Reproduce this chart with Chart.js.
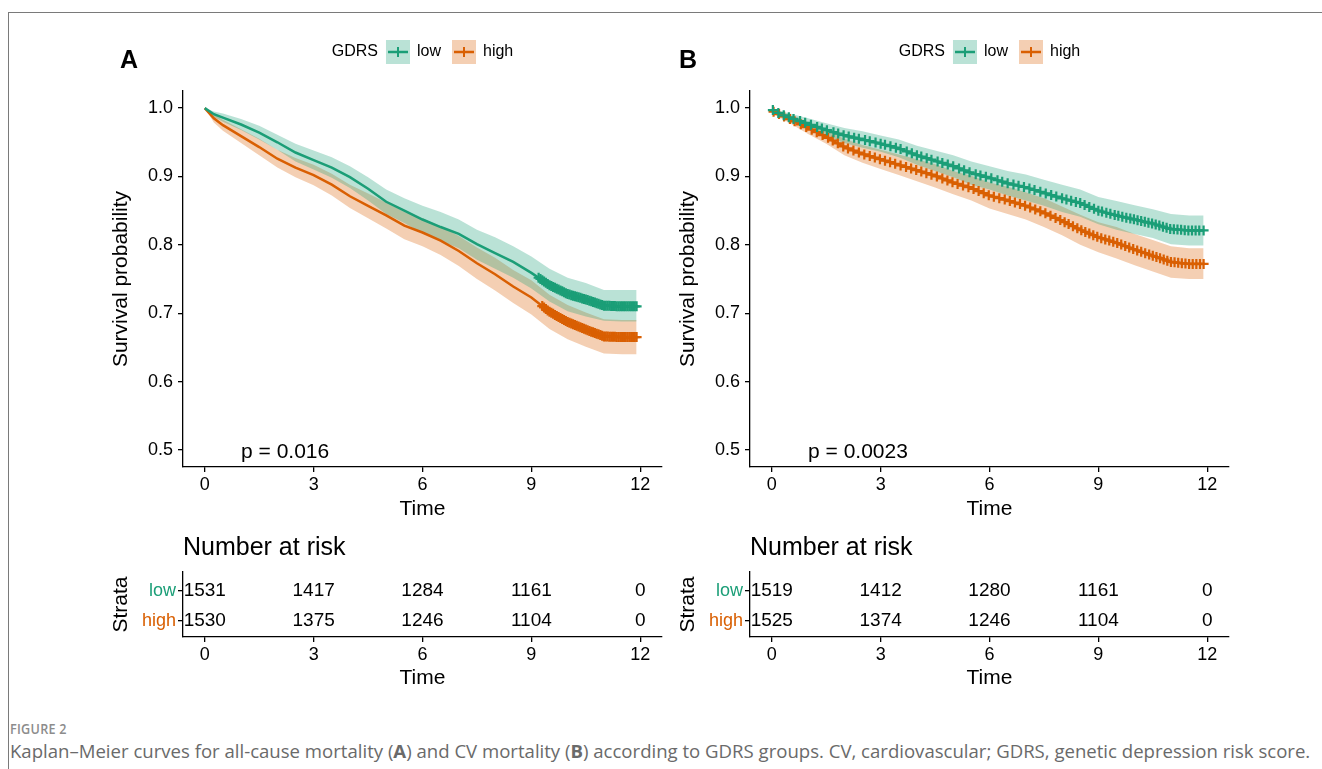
<!DOCTYPE html>
<html>
<head>
<meta charset="utf-8">
<script src="https://cdn.jsdelivr.net/npm/chart.js@4.4.1/dist/chart.umd.min.js"></script>
<style>
  html, body { margin: 0; padding: 0; background: #fff; width: 1322px; height: 769px; overflow: hidden; }
  canvas { position: absolute; }
  #frame { position: absolute; left: 8px; top: 12px; width: 1320px; height: 760px;
           border-top: 1px solid #7a7a7a; border-left: 1px solid #7a7a7a; }
  #figno { position: absolute; left: 10px; top: 719px; font: 600 14px "Open Sans", sans-serif;
           color: #8c8c8c; letter-spacing: 0.3px; transform-origin: 0 0; transform: scaleX(0.9); }
  #caption { position: absolute; left: 10px; top: 739px; font: 18px "Open Sans", sans-serif;
             color: #6a6a6a; white-space: nowrap; transform-origin: 0 0; }
</style>
</head>
<body>
<div id="frame"></div>
<canvas id="kmA" width="570" height="510" style="left:101px;top:20px"></canvas>
<canvas id="riskA" width="570" height="172" style="left:101px;top:525px"></canvas>
<canvas id="kmB" width="570" height="510" style="left:668px;top:20px"></canvas>
<canvas id="riskB" width="570" height="172" style="left:668px;top:525px"></canvas>
<div id="figno">FIGURE 2</div>
<div id="caption">Kaplan–Meier curves for all-cause mortality (<b>A</b>) and CV mortality (<b>B</b>) according to GDRS groups. CV, cardiovascular; GDRS, genetic depression risk score.</div>
<script>
// ---- data ----
const xTicks = [0, 3, 6, 9, 12];
const yTicks = [0.5, 0.6, 0.7, 0.8, 0.9, 1.0];
const strata = ["low", "high"];
const colLow = "#1B9E77";
const colHigh = "#D95F02";

const timeGrid = [0, 0.25, 0.5, 1, 1.5, 2, 2.5, 3, 3.5, 4, 4.5, 5, 5.5, 6, 6.5, 7, 7.5, 8, 8.5, 9, 9.5, 10, 10.5, 11, 11.5, 11.9];

// panel A: all-cause mortality
const survLowA  = [1.000, 0.991, 0.986, 0.976, 0.964, 0.950, 0.935, 0.924, 0.913, 0.899, 0.882, 0.863, 0.850, 0.837, 0.826, 0.816, 0.801, 0.788, 0.775, 0.759, 0.741, 0.728, 0.720, 0.711, 0.710, 0.710];
const loLowA    = [1.000, 0.987, 0.980, 0.968, 0.954, 0.939, 0.922, 0.910, 0.898, 0.883, 0.865, 0.845, 0.832, 0.817, 0.806, 0.795, 0.778, 0.765, 0.752, 0.736, 0.717, 0.703, 0.695, 0.689, 0.688, 0.688];
const hiLowA    = [1.000, 0.995, 0.992, 0.984, 0.974, 0.961, 0.948, 0.938, 0.928, 0.915, 0.899, 0.881, 0.868, 0.857, 0.848, 0.837, 0.822, 0.811, 0.798, 0.783, 0.765, 0.752, 0.744, 0.734, 0.734, 0.734];
const survHighA = [1.000, 0.985, 0.975, 0.959, 0.943, 0.926, 0.913, 0.902, 0.888, 0.871, 0.857, 0.843, 0.828, 0.818, 0.806, 0.791, 0.773, 0.757, 0.739, 0.723, 0.702, 0.687, 0.676, 0.666, 0.665, 0.665];
const loHighA   = [1.000, 0.979, 0.967, 0.949, 0.931, 0.913, 0.899, 0.887, 0.872, 0.854, 0.839, 0.824, 0.808, 0.798, 0.785, 0.769, 0.750, 0.733, 0.715, 0.698, 0.677, 0.662, 0.651, 0.641, 0.640, 0.640];
const hiHighA   = [1.000, 0.991, 0.983, 0.969, 0.955, 0.939, 0.927, 0.917, 0.904, 0.888, 0.875, 0.862, 0.848, 0.839, 0.827, 0.813, 0.796, 0.781, 0.763, 0.748, 0.727, 0.712, 0.701, 0.691, 0.690, 0.690];
const censLowA  = [9.2, 9.25, 9.3, 9.35, 9.4, 9.45, 9.5, 9.55, 9.6, 9.65, 9.7, 9.75, 9.8, 9.85, 9.9, 9.95, 10.0, 10.05, 10.1, 10.15, 10.2, 10.25, 10.3, 10.35, 10.4, 10.45, 10.5, 10.55, 10.6, 10.65, 10.7, 10.75, 10.8, 10.85, 10.9, 10.95, 11.0, 11.05, 11.1, 11.15, 11.2, 11.25, 11.3, 11.35, 11.4, 11.45, 11.5, 11.55, 11.6, 11.65, 11.7, 11.75, 11.8, 11.85, 11.9];
const censHighA = [9.3, 9.35, 9.4, 9.45, 9.5, 9.55, 9.6, 9.65, 9.7, 9.75, 9.8, 9.85, 9.9, 9.95, 10.0, 10.05, 10.1, 10.15, 10.2, 10.25, 10.3, 10.35, 10.4, 10.45, 10.5, 10.55, 10.6, 10.65, 10.7, 10.75, 10.8, 10.85, 10.9, 10.95, 11.0, 11.05, 11.1, 11.15, 11.2, 11.25, 11.3, 11.35, 11.4, 11.45, 11.5, 11.55, 11.6, 11.65, 11.7, 11.75, 11.8, 11.85, 11.9];
const riskLowA  = [1531, 1417, 1284, 1161, 0];
const riskHighA = [1530, 1375, 1246, 1104, 0];

// panel B: CV mortality
const survLowB  = [0.998, 0.991, 0.986, 0.977, 0.968, 0.960, 0.954, 0.948, 0.941, 0.931, 0.923, 0.915, 0.905, 0.898, 0.890, 0.884, 0.876, 0.868, 0.861, 0.850, 0.843, 0.837, 0.831, 0.823, 0.821, 0.821];
const loLowB    = [0.996, 0.987, 0.980, 0.969, 0.958, 0.949, 0.942, 0.936, 0.928, 0.917, 0.908, 0.899, 0.888, 0.881, 0.872, 0.865, 0.857, 0.848, 0.841, 0.830, 0.822, 0.816, 0.810, 0.801, 0.799, 0.799];
const hiLowB    = [1.000, 0.995, 0.992, 0.985, 0.978, 0.971, 0.966, 0.960, 0.954, 0.945, 0.938, 0.931, 0.922, 0.915, 0.908, 0.903, 0.895, 0.888, 0.881, 0.870, 0.864, 0.858, 0.852, 0.845, 0.843, 0.843];
const survHighB = [0.996, 0.990, 0.984, 0.971, 0.958, 0.943, 0.933, 0.925, 0.917, 0.909, 0.901, 0.891, 0.883, 0.872, 0.865, 0.857, 0.847, 0.835, 0.822, 0.811, 0.803, 0.793, 0.784, 0.775, 0.772, 0.772];
const loHighB   = [0.993, 0.985, 0.978, 0.962, 0.948, 0.931, 0.920, 0.911, 0.902, 0.893, 0.884, 0.874, 0.865, 0.853, 0.845, 0.837, 0.826, 0.814, 0.800, 0.789, 0.780, 0.770, 0.761, 0.752, 0.750, 0.750];
const hiHighB   = [0.999, 0.995, 0.990, 0.980, 0.968, 0.955, 0.946, 0.939, 0.932, 0.925, 0.918, 0.908, 0.901, 0.891, 0.885, 0.877, 0.868, 0.856, 0.844, 0.833, 0.826, 0.816, 0.807, 0.798, 0.795, 0.795];
const censLowB  = [0.03, 0.18, 0.33, 0.47, 0.6, 0.78, 0.92, 1.08, 1.25, 1.38, 1.52, 1.7, 1.83, 1.98, 2.12, 2.27, 2.4, 2.57, 2.7, 2.86, 3.0, 3.12, 3.27, 3.42, 3.55, 3.72, 3.86, 4.0, 4.12, 4.27, 4.4, 4.57, 4.7, 4.85, 5.0, 5.16, 5.3, 5.45, 5.62, 5.75, 5.9, 6.05, 6.22, 6.35, 6.5, 6.66, 6.8, 6.95, 7.1, 7.24, 7.4, 7.55, 7.7, 7.84, 8.0, 8.12, 8.25, 8.38, 8.5, 8.62, 8.75, 8.88, 9.0, 9.1, 9.22, 9.33, 9.45, 9.55, 9.66, 9.77, 9.88, 9.98, 10.08, 10.18, 10.28, 10.38, 10.48, 10.58, 10.68, 10.78, 10.88, 10.98, 11.08, 11.18, 11.28, 11.38, 11.48, 11.58, 11.68, 11.78, 11.9];
const censHighB = [0.05, 0.2, 0.34, 0.5, 0.63, 0.8, 0.95, 1.1, 1.24, 1.4, 1.55, 1.68, 1.82, 1.97, 2.1, 2.25, 2.4, 2.55, 2.7, 2.84, 2.98, 3.12, 3.26, 3.4, 3.55, 3.7, 3.84, 3.98, 4.12, 4.26, 4.4, 4.55, 4.7, 4.84, 4.98, 5.12, 5.27, 5.42, 5.56, 5.7, 5.84, 5.98, 6.12, 6.27, 6.42, 6.56, 6.7, 6.84, 6.98, 7.12, 7.26, 7.4, 7.54, 7.68, 7.82, 7.95, 8.07, 8.18, 8.3, 8.42, 8.53, 8.64, 8.75, 8.86, 8.97, 9.08, 9.19, 9.3, 9.41, 9.52, 9.63, 9.74, 9.85, 9.96, 10.07, 10.18, 10.29, 10.4, 10.5, 10.6, 10.7, 10.8, 10.9, 11.0, 11.1, 11.2, 11.3, 11.4, 11.5, 11.6, 11.7, 11.8, 11.9];
const riskLowB  = [1519, 1412, 1280, 1161, 0];
const riskHighB = [1525, 1374, 1246, 1104, 0];

const riskTimes = [0, 3, 6, 9, 12];

// ---- drawing ----
const FONT = "'Liberation Sans', Arial, sans-serif";
Chart.defaults.font.family = FONT;
Chart.defaults.color = "#000";

const pts = ys => timeGrid.map((t, i) => ({ x: t, y: ys[i] }));

// y of the drawn curve at a censoring time, so the tick sits on the line
function onCurve(surv, t) {
  for (let i = 0; i < timeGrid.length - 1; i++) {
    if (t <= timeGrid[i + 1]) {
      const f = (t - timeGrid[i]) / (timeGrid[i + 1] - timeGrid[i]);
      return surv[i] + f * (surv[i + 1] - surv[i]);
    }
  }
  return surv[surv.length - 1];
}

function rgba(hex, a) {
  const n = parseInt(hex.slice(1), 16);
  return `rgba(${n >> 16},${(n >> 8) & 255},${n & 255},${a})`;
}

const axisCommon = {
  border: { display: true, color: "#000", width: 1.3 },
  grid: { display: true, drawOnChartArea: false, drawTicks: true, tickLength: 5, color: "#000", lineWidth: 1.3 },
};

const timeAxis = (height, titlePad) => ({
  type: "linear", min: -0.6, max: 12.6,
  ...axisCommon,
  afterBuildTicks: s => { s.ticks = xTicks.map(v => ({ value: v })); },
  afterFit: s => { s.height = height; },
  ticks: { font: { size: 18 }, padding: 2, maxRotation: 0 },
  title: { display: true, text: "Time", font: { size: 21 }, padding: { top: 0, bottom: titlePad } },
});

const panelDeco = {
  id: "panelDeco",
  afterDraw(chart, args, o) {
    const { ctx, chartArea, scales } = chart;
    ctx.save();
    ctx.fillStyle = "#000";
    ctx.textBaseline = "middle";
    ctx.textAlign = "left";
    ctx.font = `bold 25px ${FONT}`;
    ctx.fillText(o.letter, o.letterX, 41);

    ctx.font = `21px ${FONT}`;
    ctx.fillText(o.pval, scales.x.getPixelForValue(1.0), scales.y.getPixelForValue(0.497));

    // legend
    ctx.font = `16px ${FONT}`;
    const key = 24, gapTitle = 8, gapKey = 7, gapItem = 11;
    const items = [{ label: strata[0], c: colLow }, { label: strata[1], c: colHigh }];
    const wTitle = ctx.measureText("GDRS").width;
    let total = wTitle + gapTitle;
    items.forEach((it, i) => { it.w = ctx.measureText(it.label).width; total += key + gapKey + it.w + (i ? gapItem : 0); });
    let x = (chartArea.left + chartArea.right) / 2 - total / 2;
    const y = 32;
    ctx.fillText("GDRS", x, y);
    x += wTitle + gapTitle;
    items.forEach((it, i) => {
      if (i) x += gapItem;
      ctx.fillStyle = rgba(it.c, 0.3);
      ctx.fillRect(x, y - 12, key, key);
      ctx.strokeStyle = it.c;
      ctx.lineWidth = 2.5;
      ctx.beginPath(); ctx.moveTo(x + 2, y); ctx.lineTo(x + key - 2, y); ctx.stroke();
      ctx.lineWidth = 2;
      ctx.beginPath(); ctx.moveTo(x + key / 2, y - 5); ctx.lineTo(x + key / 2, y + 5); ctx.stroke();
      x += key + gapKey;
      ctx.fillStyle = "#000";
      ctx.fillText(it.label, x, y);
      x += it.w;
    });
    ctx.restore();
  }
};

function kmChart(id, letter, letterX, pval, series) {
  const datasets = [];
  series.forEach(s => {
    datasets.push({ data: pts(s.surv), borderColor: s.c, borderWidth: 2.5, pointRadius: 0, fill: false, order: 1 });
    datasets.push({ data: s.cens.map(t => ({ x: t, y: onCurve(s.surv, t) })), showLine: false,
                    pointStyle: "cross", pointRadius: 5, pointBorderWidth: 2.2, borderColor: s.c, order: 0 });
  });
  series.forEach(s => {
    datasets.push({ data: pts(s.lo), borderWidth: 0, pointRadius: 0, fill: false, order: 3 });
    datasets.push({ data: pts(s.hi), borderWidth: 0, pointRadius: 0, fill: "-1", backgroundColor: rgba(s.c, 0.3), order: 3 });
  });
  new Chart(document.getElementById(id), {
    type: "line",
    data: { datasets },
    plugins: [panelDeco],
    options: {
      responsive: false, animation: false, devicePixelRatio: 1,
      layout: { padding: { top: 71, right: 9, left: 0, bottom: 0 } },
      plugins: { legend: { display: false }, tooltip: { enabled: false },
                 panelDeco: { letter, letterX, pval } },
      scales: {
        x: timeAxis(63, 8),
        y: {
          type: "linear", min: 0.475, max: 1.025,
          ...axisCommon,
          afterBuildTicks: s => { s.ticks = yTicks.map(v => ({ value: v })); },
          afterFit: s => { s.width = 82; },
          ticks: { font: { size: 18 }, padding: 5, callback: v => v.toFixed(1) },
          title: { display: true, text: "Survival probability", font: { size: 21 }, padding: { top: 8 } },
        },
      },
    },
  });
}

const riskText = {
  id: "riskText",
  afterDatasetsDraw(chart) {
    const { ctx, chartArea } = chart;
    ctx.save();
    ctx.fillStyle = "#000";
    ctx.textBaseline = "middle";
    ctx.font = `25px ${FONT}`;
    ctx.textAlign = "left";
    ctx.fillText("Number at risk", chartArea.left, chartArea.top - 24);
    ctx.font = `19px ${FONT}`;
    ctx.textAlign = "center";
    chart.data.datasets.forEach((ds, i) => {
      chart.getDatasetMeta(i).data.forEach((el, j) => ctx.fillText(String(ds.counts[j]), el.x, el.y));
    });
    ctx.restore();
  }
};

function riskChart(id, rows) {
  new Chart(document.getElementById(id), {
    type: "scatter",
    data: { datasets: rows.map((r, i) => ({ counts: r, data: riskTimes.map(t => ({ x: t, y: i + 1 })), pointRadius: 0 })) },
    plugins: [riskText],
    options: {
      responsive: false, animation: false, devicePixelRatio: 1,
      layout: { padding: { top: 47, right: 9, left: 0, bottom: 0 } },
      plugins: { legend: { display: false }, tooltip: { enabled: false } },
      scales: {
        x: timeAxis(60, 6),
        y: {
          type: "linear", min: 0.36, max: 2.55, reverse: true,
          ...axisCommon,
          afterBuildTicks: s => { s.ticks = [1, 2].map(v => ({ value: v })); },
          afterFit: s => { s.width = 82; },
          ticks: { font: { size: 18 }, padding: 2, callback: v => strata[v - 1],
                   color: c => (c.tick && c.tick.value === 2) ? colHigh : colLow },
          title: { display: true, text: "Strata", font: { size: 21 }, padding: { top: 8 } },
        },
      },
    },
  });
}

kmChart("kmA", "A", 19, "p = 0.016", [
  { surv: survLowA, lo: loLowA, hi: hiLowA, cens: censLowA, c: colLow },
  { surv: survHighA, lo: loHighA, hi: hiHighA, cens: censHighA, c: colHigh },
]);
kmChart("kmB", "B", 11, "p = 0.0023", [
  { surv: survLowB, lo: loLowB, hi: hiLowB, cens: censLowB, c: colLow },
  { surv: survHighB, lo: loHighB, hi: hiHighB, cens: censHighB, c: colHigh },
]);
riskChart("riskA", [riskLowA, riskHighA]);
riskChart("riskB", [riskLowB, riskHighB]);

// stretch caption to the width it has in the figure
const cap = document.getElementById("caption");
cap.style.transform = `scaleX(${1300 / cap.offsetWidth})`;
</script>
</body>
</html>
